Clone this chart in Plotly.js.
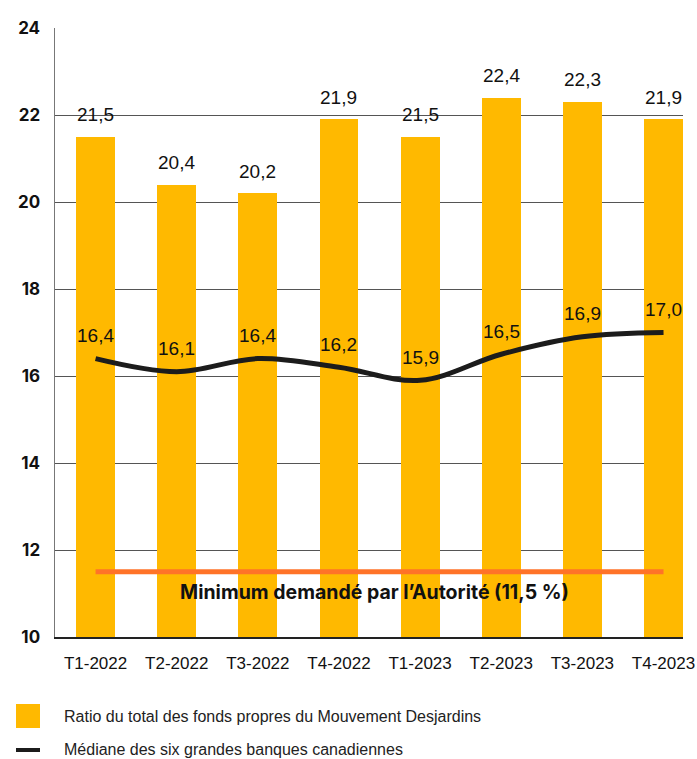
<!DOCTYPE html>
<html>
<head>
<meta charset="utf-8">
<script src="https://cdn.plot.ly/plotly-3.0.1.min.js"></script>
<style>
  html, body { margin: 0; padding: 0; background: #fff; }
  #chart { width: 697px; height: 759px; }
</style>
</head>
<body>
<div id="chart"></div>
<script>
// ---- Data ----
const categories = ["T1-2022", "T2-2022", "T3-2022", "T4-2022", "T1-2023", "T2-2023", "T3-2023", "T4-2023"];
const desjardinsRatio = [21.5, 20.4, 20.2, 21.9, 21.5, 22.4, 22.3, 21.9];
const medianBanks = [16.4, 16.1, 16.4, 16.2, 15.9, 16.5, 16.9, 17.0];
const minimumRequired = 11.5;
const yTickValues = [10, 12, 14, 16, 18, 20, 22, 24];
const seriesNames = [
  "Ratio du total des fonds propres du Mouvement Desjardins",
  "Médiane des six grandes banques canadiennes"
];
const minimumLabel = "Minimum demandé par l’Autorité (11,5 %)";

// ---- Styles ----
const BAR_COLOR = "#FFB900";
const LINE_COLOR = "#1c1c1c";
const MIN_COLOR = "#FF7328";
const NUM_FONT = "Liberation Sans, Arial, sans-serif";
const BOLD_FONT = "Inter, Roboto, sans-serif";

const fmt = v => v.toFixed(1).replace(".", ",");
const idx = categories.map((c, i) => i);

const traces = [
  {
    type: "bar",
    x: idx,
    y: desjardinsRatio,
    width: 0.48,
    marker: { color: BAR_COLOR, line: { width: 0 } },
    name: seriesNames[0],
    hoverinfo: "skip",
    showlegend: false
  },
  {
    type: "scatter",
    mode: "lines",
    x: idx,
    y: categories.map(() => minimumRequired),
    line: { color: MIN_COLOR, width: 5 },
    hoverinfo: "skip",
    showlegend: false
  },
  {
    type: "scatter",
    mode: "lines",
    x: idx,
    y: medianBanks,
    line: { color: LINE_COLOR, width: 5, shape: "spline", smoothing: 1 },
    name: seriesNames[1],
    hoverinfo: "skip",
    showlegend: false
  }
];

const annotations = [];
desjardinsRatio.forEach((v, i) => {
  annotations.push({
    x: i, y: v, xref: "x", yref: "y",
    text: fmt(v), showarrow: false,
    yanchor: "middle", yshift: 22,
    font: { family: NUM_FONT, size: 19, color: "#111" }
  });
});
medianBanks.forEach((v, i) => {
  annotations.push({
    x: i, y: v, xref: "x", yref: "y",
    text: fmt(v), showarrow: false,
    yanchor: "middle", yshift: 23,
    font: { family: NUM_FONT, size: 19, color: "#111" }
  });
});
annotations.push({
  x: 3.5, y: minimumRequired, xref: "x", yref: "y",
  text: "<b>" + minimumLabel + "</b>", showarrow: false,
  yanchor: "middle", yshift: -20, xshift: -5,
  font: { family: BOLD_FONT, size: 19.5, color: "#111" }
});
// legend texts
annotations.push({
  x: 0, y: 0, xref: "paper", yref: "paper",
  xanchor: "left", yanchor: "middle", xshift: 7, yshift: -79,
  text: seriesNames[0], showarrow: false,
  font: { family: NUM_FONT, size: 16, color: "#222" }
});
annotations.push({
  x: 0, y: 0, xref: "paper", yref: "paper",
  xanchor: "left", yanchor: "middle", xshift: 7, yshift: -112,
  text: seriesNames[1], showarrow: false,
  font: { family: NUM_FONT, size: 16, color: "#222" }
});

const shapes = [
  { type: "rect", xref: "paper", yref: "paper", xsizemode: "pixel", ysizemode: "pixel",
    xanchor: 0, yanchor: 0, x0: -39, x1: -15, y0: -91, y1: -67,
    fillcolor: BAR_COLOR, line: { width: 0 } },
  { type: "rect", xref: "paper", yref: "paper", xsizemode: "pixel", ysizemode: "pixel",
    xanchor: 0, yanchor: 0, x0: -39, x1: -15, y0: -115, y1: -111,
    fillcolor: LINE_COLOR, line: { width: 0 } }
];

const layout = {
  width: 697, height: 759,
  margin: { l: 55, r: 14, t: 28, b: 122 },
  paper_bgcolor: "#fff", plot_bgcolor: "#fff",
  showlegend: false,
  bargap: 0,
  xaxis: {
    range: [-0.5, 7.24],
    tickvals: idx, ticktext: categories,
    showgrid: false, zeroline: false,
    showline: true, linecolor: "#222", linewidth: 1.5,
    ticks: "", ticklabelstandoff: 10,
    tickfont: { family: NUM_FONT, size: 17, color: "#111" },
    tickangle: 0,
    fixedrange: true
  },
  yaxis: {
    range: [10, 24],
    tickvals: yTickValues,
    ticktext: yTickValues.map(String),
    showgrid: true, gridcolor: "#555", gridwidth: 1,
    zeroline: false,
    showline: true, linecolor: "#777", linewidth: 1.5,
    ticks: "", ticklabelstandoff: 10,
    tickfont: { family: BOLD_FONT, size: 17, color: "#111", weight: "bold" },
    fixedrange: true
  },
  annotations: annotations,
  shapes: shapes
};

Plotly.newPlot("chart", traces, layout, { staticPlot: true, displayModeBar: false });
</script>
</body>
</html>
